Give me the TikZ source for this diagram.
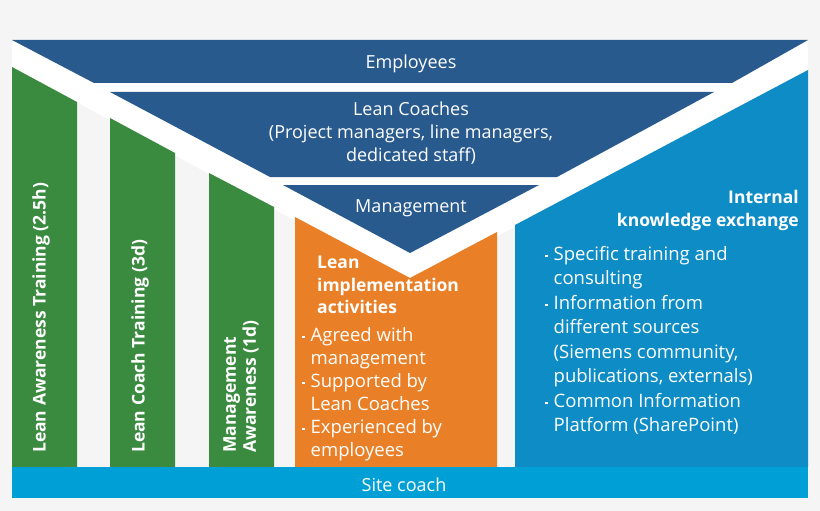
\documentclass[tikz,border=0pt]{standalone}
\usepackage{fontspec}
\setmainfont{Open Sans}
\usepackage{tikz}
\definecolor{bgGray}{HTML}{F5F5F5}
\definecolor{darkBlue}{HTML}{285A8E}
\definecolor{leanGreen}{HTML}{3A8A40}
\definecolor{leanOrange}{HTML}{E97F27}
\definecolor{kBlue}{HTML}{0D8CC6}
\definecolor{siteBlue}{HTML}{00A0D6}
\newcommand{\bul}{\raisebox{3pt}{\rule{2.5pt}{2.5pt}}\hspace{6pt}}
\newcommand{\ind}{\hspace{8.5pt}}
\tikzset{
  lbl/.style={text=white, font=\fontsize{18}{23}\selectfont, align=center, inner sep=0pt},
  vlbl/.style={text=white, font=\bfseries\fontsize{17.5}{20}\selectfont, rotate=90, anchor=west, align=left, inner sep=0pt},
  body/.style={text=white, font=\fontsize{18.5}{23}\selectfont, align=left, anchor=north west, inner sep=0pt},
}
\begin{document}
\begin{tikzpicture}[x=1pt, y=-1pt]
    \useasboundingbox (0,0) rectangle (820,511);
    \fill[bgGray] (0,0) rectangle (820,511);

    % white V band
    \fill[white] (12,40) -- (808,40) -- (808,70) -- (410,283) -- (12,67) -- cycle;

    % columns
    \fill[leanGreen] (12,67) -- (77,102) -- (77,467) -- (12,467) -- cycle;
    \fill[leanGreen] (110,118) -- (175,153) -- (175,467) -- (110,467) -- cycle;
    \fill[leanGreen] (209,173) -- (274,207) -- (274,467) -- (209,467) -- cycle;
    \fill[leanOrange] (295,217) -- (410,278) -- (497,232) -- (497,467) -- (295,467) -- cycle;
    \fill[kBlue] (515,225) -- (808,70) -- (808,467) -- (515,467) -- cycle;
    \fill[siteBlue] (12,467) rectangle (808,498);

    % blue layers
    \fill[darkBlue] (12,40) -- (808,40) -- (732,83) -- (94,83) -- cycle;
    \fill[darkBlue] (110,92) -- (714,92) -- (557,177) -- (270,177) -- cycle;
    \fill[darkBlue] (283,185) -- (539,185) -- (410,253) -- cycle;

    \node[lbl] (employees) at (411,64) {Employees};
    \node[lbl] (coaches) at (411,133) {Lean Coaches\\(Project managers, line managers,\\dedicated staff)};
    \node[lbl] (management) at (411,208) {Management};
    \node[lbl] (site) at (404,485) {Site coach};

    \node[vlbl] (awareness) at (41,453) {Lean Awareness Training (2.5h)};
    \node[vlbl] (coachtraining) at (140,453) {Lean Coach Training (3d)};
    \node[vlbl] (mgmtawareness) at (241,453) {Management\\Awareness (1d)};

    \node[body, font=\bfseries\fontsize{17.5}{22.5}\selectfont] (leanhead) at (317,256) {Lean\\implementation\\activities};
    \node[body] (leanlist) at (302,327) {\bul Agreed with\\\ind management\\\bul Supported by\\\ind Lean Coaches\\\bul Experienced by\\\ind employees};

    \node[text=white, font=\bfseries\fontsize{17.5}{23}\selectfont, align=right, anchor=north east, inner sep=0pt] (khead) at (799,190) {Internal\\knowledge exchange};
    \node[body, font=\fontsize{18.5}{24.5}\selectfont] (klist) at (545,246) {\bul Specific training and\\\ind consulting\\\bul Information from\\\ind different sources\\\ind (Siemens community,\\\ind publications, externals)\\\bul Common Information\\\ind Platform (SharePoint)};
\end{tikzpicture}
\end{document}
